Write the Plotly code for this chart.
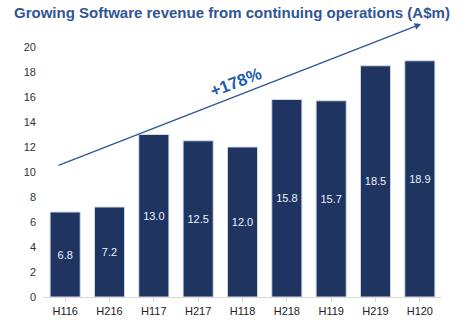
import plotly.graph_objects as go

categories = ["H116", "H216", "H117", "H217", "H118", "H218", "H119", "H219", "H120"]
revenue = [6.8, 7.2, 13.0, 12.5, 12.0, 15.8, 15.7, 18.5, 18.9]
y_ticks = [0, 2, 4, 6, 8, 10, 12, 14, 16, 18, 20]
growth_label = "+178%"

fig = go.Figure()
fig.add_trace(go.Bar(
    x=list(range(len(categories))),
    y=revenue,
    text=[f"{v:.1f}" for v in revenue],
    textposition="inside",
    insidetextanchor="middle",
    textangle=0,
    textfont=dict(color="#EAF2FF", size=11, family="Liberation Sans, Arial"),
    marker=dict(color="#203462", line=dict(color="#D5DCE8", width=1)),
    width=0.68,
    hoverinfo="skip",
))

fig.add_annotation(
    x=8.03, y=21.84, ax=-0.185, ay=10.48,
    xref="x", yref="y", axref="x", ayref="y",
    showarrow=True, arrowhead=2, arrowsize=1, arrowwidth=1.3,
    arrowcolor="#2F5597", text="",
)
fig.add_annotation(
    x=3.85, y=17.2, xref="x", yref="y",
    text="<b>" + growth_label + "</b>", showarrow=False, textangle=-21,
    font=dict(color="#1F5FAF", size=17, family="Liberation Sans, Arial"),
)

fig.update_layout(
    width=467, height=331,
    margin=dict(l=43, r=25, t=47, b=34),
    paper_bgcolor="white", plot_bgcolor="white",
    showlegend=False,
    title=dict(
        text="<b>Growing Software revenue from continuing operations (A$m)</b>",
        x=14/467, xanchor="left", xref="container",
        y=1 - 13/331, yanchor="middle", yref="container",
        font=dict(color="#2F5597", size=15, family="Liberation Sans, Arial"),
    ),
    font=dict(family="Liberation Sans, Arial", color="#333333", size=11),
    xaxis=dict(
        tickmode="array", tickvals=list(range(len(categories))), ticktext=categories,
        range=[-0.5, len(categories) - 0.5],
        showgrid=False, zeroline=False,
        showline=True, linecolor="#D9D9D9", linewidth=1,
        ticks="outside", tickson="boundaries", ticklen=4, tickcolor="#D9D9D9",
        tickfont=dict(size=11, color="#222222"),
    ),
    yaxis=dict(
        range=[0, 20], tickvals=y_ticks,
        showgrid=False, zeroline=False, showline=False,
        tickfont=dict(size=11, color="#333333"),
        ticklabelstandoff=6,
    ),
)

fig.write_html("out.html")
